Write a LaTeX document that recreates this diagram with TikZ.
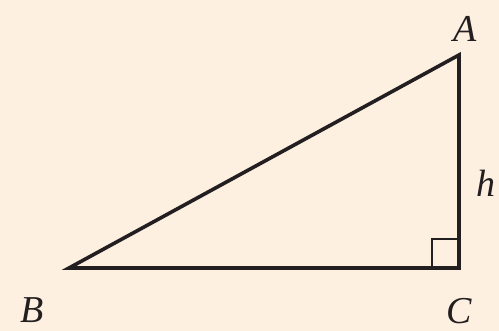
\documentclass[tikz,border=0pt]{standalone}
\usepackage{fontspec}
\setmainfont{Liberation Serif}
\definecolor{bgcream}{RGB}{253,240,225}
\definecolor{ink}{RGB}{35,31,32}
\begin{document}
\begin{tikzpicture}[x=1pt,y=-1pt,
  edge/.style={draw=ink,line width=3.6pt,line join=miter},
  rightmark/.style={draw=ink,line width=2.4pt},
  lbl/.style={font=\fontsize{38}{40}\selectfont\itshape,text=ink,inner sep=0pt}]
\fill[bgcream] (0,0) rectangle (499,331);
\useasboundingbox (0,0) rectangle (499,331);
\coordinate (B) at (69,268);
\coordinate (C) at (459,268);
\coordinate (A) at (459,55);
\draw[edge] (B) -- (C) -- (A) -- cycle;
\draw[rightmark] (432,268) -- (432,239) -- (459,239);
\node[lbl] (la) at (465,29) {A};
\node[lbl] (lb) at (32,310) {B};
\node[lbl] (lc) at (459,311) {C};
\node[lbl] (lh) at (486,183) {h};
\end{tikzpicture}
\end{document}
